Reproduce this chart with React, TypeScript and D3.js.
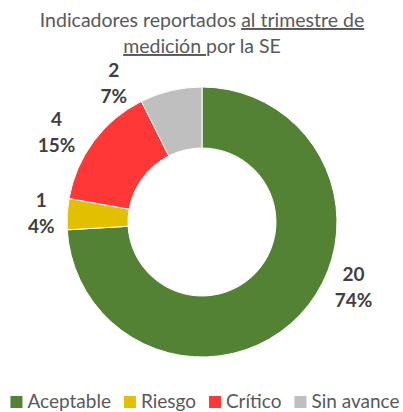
import React, { useEffect, useRef } from "react";
import * as d3 from "d3";

const categories = ["Aceptable", "Riesgo", "Crítico", "Sin avance"];
const counts = [20, 1, 4, 2];
const percentLabels = ["74%", "4%", "15%", "7%"];
const colors = ["#548235", "#E2C000", "#FF3737", "#BFBFBF"];

// manual label nudges (degrees) like the hand-placed labels in the source
const labelAngleNudge = [-20, 0, -5, -19];
const labelRadius = [165, 161, 171, 165];

const App = () => {
  const ref = useRef<SVGSVGElement>(null);

  useEffect(() => {
    document.body.style.margin = "0";
    const width = 403;
    const height = 412;
    const cx = 202;
    const cy = 222;
    const outer = 135;
    const inner = 74;
    const font = "Lato, 'Open Sans', sans-serif";

    const svg = d3.select(ref.current);
    svg.selectAll("*").remove();
    svg.attr("viewBox", [0, 0, width, height]).attr("width", width).attr("height", height);

    // title
    const title = svg
      .append("text")
      .attr("text-anchor", "middle")
      .attr("font-family", font)
      .attr("font-size", 19.5)
      .attr("fill", "#595959");
    const l1 = title.append("tspan").attr("x", cx).attr("y", 27);
    l1.append("tspan").text("Indicadores reportados ");
    l1.append("tspan").attr("text-decoration", "underline").text("al trimestre de");
    const l2 = title.append("tspan").attr("x", cx).attr("y", 53);
    l2.append("tspan").attr("text-decoration", "underline").style("white-space", "pre").text("medición ");
    l2.append("tspan").text("por la SE");

    const data = categories.map((name, i) => ({ name, value: counts[i], pct: percentLabels[i], i }));
    const pie = d3.pie<any>().sort(null).value(d => d.value);
    const arcs = pie(data);
    const arc = d3.arc<any>().innerRadius(inner).outerRadius(outer);

    const g = svg.append("g").attr("transform", `translate(${cx},${cy})`);
    g.selectAll("path")
      .data(arcs)
      .join("path")
      .attr("d", arc)
      .attr("fill", d => colors[d.index])
      .attr("stroke", "#fff")
      .attr("stroke-width", 1);

    // data labels
    const lbl = g
      .append("g")
      .attr("font-family", font)
      .attr("font-size", 19)
      .attr("font-weight", "bold")
      .attr("fill", "#404040")
      .attr("text-anchor", "middle")
      .selectAll("text")
      .data(arcs)
      .join("text")
      .attr("transform", d => {
        const a = (d.startAngle + d.endAngle) / 2 + (labelAngleNudge[d.index] * Math.PI) / 180;
        const r = labelRadius[d.index];
        return `translate(${Math.sin(a) * r},${-Math.cos(a) * r})`;
      });
    lbl.append("tspan").attr("x", 0).attr("y", -6).text(d => d.data.value);
    lbl.append("tspan").attr("x", 0).attr("y", 20).text(d => d.data.pct);

    // legend
    const legend = svg
      .append("g")
      .attr("font-family", font)
      .attr("font-size", 19)
      .attr("fill", "#595959");
    const items = legend
      .selectAll("g")
      .data(categories)
      .join("g");
    items
      .append("rect")
      .attr("width", 12)
      .attr("height", 12)
      .attr("y", 396)
      .attr("fill", (d, i) => colors[i]);
    items
      .append("text")
      .attr("x", 17)
      .attr("y", 408)
      .text(d => d);
    const widths = items.nodes().map(n => 17 + (n.querySelector("text") as SVGTextElement).getComputedTextLength());
    const gap = 13;
    const total = d3.sum(widths) + gap * (widths.length - 1);
    let x = 205 - total / 2;
    items.attr("transform", (d, i) => {
      const t = `translate(${x},0)`;
      x += widths[i] + gap;
      return t;
    });
  }, []);

  return <svg ref={ref} style={{ display: "block" }} />;
};

export default App;
